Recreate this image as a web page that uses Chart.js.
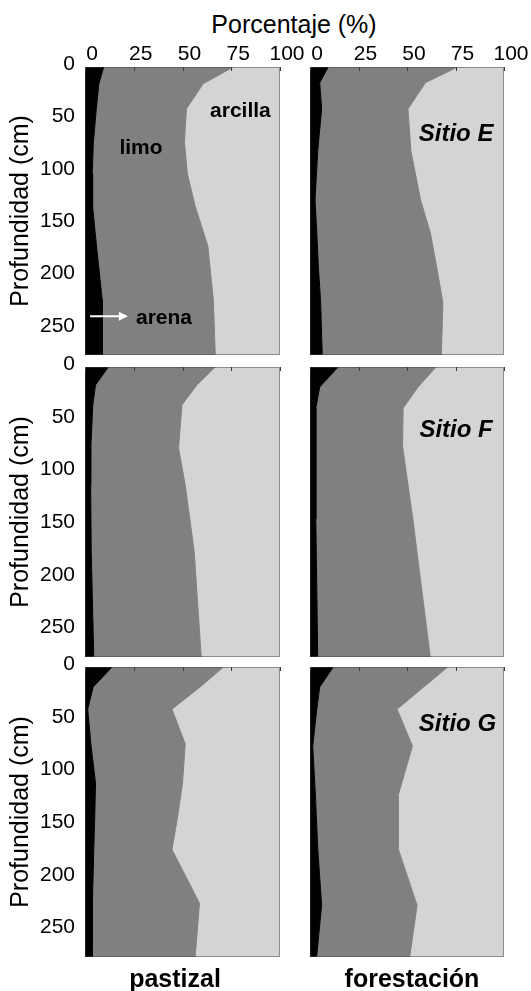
<!DOCTYPE html>
<html lang="es">
<head>
    <meta charset="UTF-8">
    <title>Textura del suelo - Sitios E, F y G</title>
    <script src="https://cdn.jsdelivr.net/npm/chart.js"></script>
    <style>
        body { margin: 0; background: #fff; font-family: "Liberation Sans", Arial, sans-serif; }
        #wrap { position: relative; width: 531px; height: 991px; overflow: hidden; }
        #wrap canvas { position: absolute; }
        .lbl { position: absolute; white-space: nowrap; color: #000; line-height: 1; font-size: 25px; transform: translateX(-50%); }
        .foot { font-weight: bold; top: 966px; }
    </style>
</head>
<body>
<div id="wrap">
    <div class="lbl" style="left:294px; top:12px;">Porcentaje (%)</div>
    <canvas id="chartEp" width="305" height="360" style="left:0; top:0;"></canvas>
    <canvas id="chartEf" width="231" height="360" style="left:300px; top:0;"></canvas>
    <canvas id="chartFp" width="305" height="315" style="left:0; top:345px;"></canvas>
    <canvas id="chartFf" width="231" height="315" style="left:300px; top:345px;"></canvas>
    <canvas id="chartGp" width="305" height="315" style="left:0; top:645px;"></canvas>
    <canvas id="chartGf" width="231" height="315" style="left:300px; top:645px;"></canvas>
    <div class="lbl foot" style="left:175px;">pastizal</div>
    <div class="lbl foot" style="left:412px;">forestación</div>
</div>

<script>
    // tick labels
    const pctTicks = [0, 25, 50, 75, 100];
    const depthTicks = [0, 50, 100, 150, 200, 250];

    // Sitio E - pastizal (profundidad en cm, fracciones en %)
    const depthEp   = [0, 16, 40, 72, 102, 133, 171, 222, 275];
    const arenaEp   = [9.6, 7.1, 5.8, 4.3, 3.7, 3.9, 5.9, 8.8, 8.8];
    const limoEp    = [66.4, 53.5, 46.2, 46.7, 48.8, 52.6, 57.1, 57.0, 58.0];
    const arcillaEp = [24.0, 39.4, 48.0, 49.0, 47.5, 43.5, 37.0, 34.2, 33.2];

    // Sitio E - forestación
    const depthEf   = [0, 15, 40, 80, 127, 158, 190, 225, 275];
    const arenaEf   = [9.4, 5.0, 6.0, 4.0, 2.6, 3.5, 4.3, 5.5, 6.3];
    const limoEf    = [66.6, 54.5, 44.5, 48.0, 54.4, 58.5, 60.9, 63.0, 61.4];
    const arcillaEf = [24.0, 40.5, 49.5, 48.0, 43.0, 38.0, 34.8, 31.5, 32.3];

    // Sitio F - pastizal
    const depthFp   = [0, 17, 36, 77, 112, 175, 275];
    const arenaFp   = [12.0, 5.4, 4.0, 3.0, 2.9, 3.2, 4.5];
    const limoFp    = [54.8, 52.0, 45.7, 45.0, 48.5, 52.8, 55.1];
    const arcillaFp = [33.2, 42.6, 50.3, 52.0, 48.6, 44.0, 40.4];

    // Sitio F - forestación
    const depthFf   = [0, 19, 39, 75, 144, 275];
    const arenaFf   = [14.5, 5.0, 3.0, 3.0, 3.0, 4.0];
    const limoFf    = [50.5, 50.7, 45.0, 44.7, 50.0, 58.0];
    const arcillaFf = [35.0, 44.3, 52.0, 52.3, 47.0, 38.0];

    // Sitio G - pastizal
    const depthGp   = [0, 19, 40, 73, 110, 142, 173, 224, 275];
    const arenaGp   = [13.9, 4.2, 1.4, 3.0, 5.4, 5.0, 4.5, 3.8, 3.7];
    const limoGp    = [57.1, 54.8, 43.2, 48.4, 44.6, 42.5, 40.1, 54.9, 52.8];
    const arcillaGp = [29.0, 41.0, 55.4, 48.6, 50.0, 52.5, 55.4, 41.3, 43.5];

    // Sitio G - forestación
    const depthGf   = [0, 19, 40, 75, 122, 172, 226, 275];
    const arenaGf   = [12.0, 5.0, 3.5, 1.4, 2.8, 4.0, 6.0, 3.4];
    const limoGf    = [59.0, 53.6, 41.4, 51.4, 42.6, 41.4, 49.2, 48.0];
    const arcillaGf = [29.0, 41.4, 55.1, 47.2, 54.6, 54.6, 44.8, 48.6];

    const FONT = '"Liberation Sans", Arial, sans-serif';
    const colors = { arena: '#000000', limo: '#808080', arcilla: '#d4d4d4' };

    // canvas placement and plot edges (page px)
    const cols = [
        { left: 0, width: 305, plotLeft: 85, plotRight: 280 },
        { left: 300, width: 231, plotLeft: 310, plotRight: 504 }
    ];
    const rows = [
        { top: 0, height: 360, plotTop: 67, plotBottom: 355 },
        { top: 345, height: 315, plotTop: 367, plotBottom: 657 },
        { top: 645, height: 315, plotTop: 667, plotBottom: 957 }
    ];

    // dotted frame + short inward ticks along the top edge
    const panelFrame = {
        id: 'panelFrame',
        afterDatasetsDraw(chart) {
            const { ctx, chartArea: a, scales: { x } } = chart;
            ctx.save();
            ctx.strokeStyle = '#3a3a3a';
            ctx.lineWidth = 1;
            pctTicks.forEach(v => {
                const px = Math.round(x.getPixelForValue(v)) + 0.5;
                ctx.beginPath();
                ctx.moveTo(px, a.top);
                ctx.lineTo(px, a.top + 4);
                ctx.stroke();
            });
            ctx.setLineDash([1, 1]);
            ctx.strokeStyle = '#444';
            ctx.strokeRect(a.left + 0.5, a.top + 0.5, a.width - 1, a.height - 1);
            ctx.restore();
        }
    };

    // text labels / arrow placed in data units (% , cm)
    function notesPlugin(notes) {
        return {
            id: 'panelNotes',
            afterDraw(chart) {
                const { ctx, scales: { x, y } } = chart;
                ctx.save();
                (notes.labels || []).forEach(n => {
                    ctx.font = n.font;
                    ctx.fillStyle = '#000';
                    ctx.textAlign = 'center';
                    ctx.textBaseline = 'alphabetic';
                    ctx.fillText(n.text, x.getPixelForValue(n.x), y.getPixelForValue(n.y));
                });
                if (notes.arrow) {
                    const ar = notes.arrow;
                    const x0 = x.getPixelForValue(ar.from);
                    const x1 = x.getPixelForValue(ar.to);
                    const py = y.getPixelForValue(ar.depth);
                    ctx.strokeStyle = '#fff';
                    ctx.fillStyle = '#fff';
                    ctx.lineWidth = 2;
                    ctx.beginPath();
                    ctx.moveTo(x0, py);
                    ctx.lineTo(x1 - 7, py);
                    ctx.stroke();
                    ctx.beginPath();
                    ctx.moveTo(x1, py);
                    ctx.lineTo(x1 - 9, py - 4.5);
                    ctx.lineTo(x1 - 9, py + 4.5);
                    ctx.closePath();
                    ctx.fill();
                }
                ctx.restore();
            }
        };
    }

    function series(depth, values) {
        return depth.map((d, i) => ({ x: values[i], y: d }));
    }

    function createPanel(id, row, col, depth, arena, limo, arcilla, notes) {
        const r = rows[row], c = cols[col];
        const leftCol = col === 0;
        const topRow = row === 0;
        const ctx = document.getElementById(id).getContext('2d');

        return new Chart(ctx, {
            type: 'line',
            data: {
                datasets: [
                    { label: 'arena', data: series(depth, arena), backgroundColor: colors.arena, borderColor: colors.arena, borderWidth: 1, fill: 'origin' },
                    { label: 'limo', data: series(depth, limo), backgroundColor: colors.limo, borderColor: colors.limo, borderWidth: 1, fill: '-1' },
                    { label: 'arcilla', data: series(depth, arcilla), backgroundColor: colors.arcilla, borderColor: colors.arcilla, borderWidth: 0, fill: '-1' }
                ]
            },
            options: {
                indexAxis: 'y',
                responsive: false,
                animation: false,
                events: [],
                elements: { point: { radius: 0 }, line: { tension: 0 } },
                layout: {
                    autoPadding: false,
                    padding: {
                        left: leftCol ? 0 : c.plotLeft - c.left,
                        right: c.left + c.width - c.plotRight,
                        top: 0,
                        bottom: r.top + r.height - r.plotBottom
                    }
                },
                plugins: { legend: { display: false }, tooltip: { enabled: false } },
                scales: {
                    x: {
                        type: 'linear',
                        position: 'top',
                        min: 0,
                        max: 100,
                        stacked: true,
                        afterBuildTicks: s => { s.ticks = pctTicks.map(v => ({ value: v })); },
                        afterFit: s => {
                            s.height = r.plotTop - r.top;
                            s.paddingLeft = 0;
                            s.paddingRight = 0;
                        },
                        grid: { display: false, drawTicks: false },
                        border: { display: false },
                        ticks: {
                            display: topRow,
                            padding: 0,
                            labelOffset: 7,
                            color: '#000',
                            font: { family: FONT, size: 21 }
                        }
                    },
                    y: {
                        type: 'linear',
                        reverse: true,
                        min: 0,
                        max: 275,
                        afterBuildTicks: s => { s.ticks = depthTicks.map(v => ({ value: v })); },
                        afterFit: s => {
                            s.width = leftCol ? c.plotLeft - c.left : 0;
                            s.paddingTop = 0;
                            s.paddingBottom = 0;
                        },
                        grid: { display: false, drawTicks: false },
                        border: { display: false },
                        ticks: {
                            display: leftCol,
                            padding: 10,
                            labelOffset: -3,
                            color: '#000',
                            font: { family: FONT, size: 21 }
                        },
                        title: {
                            display: leftCol,
                            text: 'Profundidad (cm)',
                            color: '#000',
                            padding: { top: 6, bottom: 0 },
                            font: { family: FONT, size: 25 }
                        }
                    }
                }
            },
            plugins: [panelFrame, notesPlugin(notes || {})]
        });
    }

    const boldLbl = 'bold 21px ' + FONT;
    const siteLbl = 'italic bold 24px ' + FONT;

    createPanel('chartEp', 0, 0, depthEp, arenaEp, limoEp, arcillaEp, {
        labels: [
            { text: 'arcilla', x: 79.7, y: 48, font: boldLbl },
            { text: 'limo', x: 28.7, y: 83, font: boldLbl },
            { text: 'arena', x: 40.5, y: 245, font: boldLbl }
        ],
        arrow: { from: 2.6, to: 22, depth: 238 }
    });
    createPanel('chartEf', 0, 1, depthEf, arenaEf, limoEf, arcillaEf, {
        labels: [{ text: 'Sitio E', x: 75.3, y: 71, font: siteLbl }]
    });
    createPanel('chartFp', 1, 0, depthFp, arenaFp, limoFp, arcillaFp);
    createPanel('chartFf', 1, 1, depthFf, arenaFf, limoFf, arcillaFf, {
        labels: [{ text: 'Sitio F', x: 75.3, y: 66, font: siteLbl }]
    });
    createPanel('chartGp', 2, 0, depthGp, arenaGp, limoGp, arcillaGp);
    createPanel('chartGf', 2, 1, depthGf, arenaGf, limoGf, arcillaGf, {
        labels: [{ text: 'Sitio G', x: 76, y: 61, font: siteLbl }]
    });
</script>
</body>
</html>
